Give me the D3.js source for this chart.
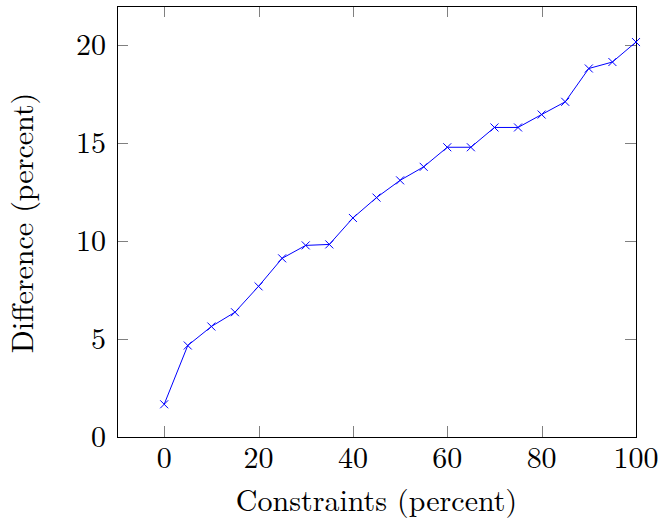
<!DOCTYPE html>
<html>
<head>
<meta charset="utf-8">
<script src="https://cdn.jsdelivr.net/npm/d3@7"></script>
<style>
  body { margin: 0; background: #fff; }
  text { font-family: "CMU Serif", "Latin Modern Roman", "Liberation Serif", serif; fill: #000; }
</style>
</head>
<body>
<svg id="chart" width="659" height="521"></svg>
<script>
const constraints = [0, 5, 10, 15, 20, 25, 30, 35, 40, 45, 50, 55, 60, 65, 70, 75, 80, 85, 90, 95, 100];
const difference = [1.67, 4.67, 5.64, 6.37, 7.69, 9.12, 9.78, 9.83, 11.18, 12.22, 13.10, 13.79, 14.79, 14.79, 15.80, 15.80, 16.46, 17.11, 18.81, 19.14, 20.16];
const xTicks = [0, 20, 40, 60, 80, 100];
const yTicks = [0, 5, 10, 15, 20];

const box = { left: 117, right: 636, top: 6, bottom: 437 };
const fontSize = 30;
const tickLen = 11;

const svg = d3.select('#chart');

const x = d3.scaleLinear().domain([-10, 100]).range([box.left, box.right]);
const y = d3.scaleLinear().domain([0, 22]).range([box.bottom, box.top]);

// mirrored inner ticks, like pgfplots
const tickColor = '#808080';
const ticks = svg.append('g').attr('stroke', tickColor).attr('stroke-width', 1);
xTicks.forEach(v => {
  const px = Math.round(x(v)) + 0.5;
  ticks.append('line').attr('x1', px).attr('x2', px).attr('y1', box.bottom).attr('y2', box.bottom - tickLen);
  ticks.append('line').attr('x1', px).attr('x2', px).attr('y1', box.top).attr('y2', box.top + tickLen);
});
yTicks.forEach(v => {
  const py = Math.round(y(v)) + 0.5;
  ticks.append('line').attr('x1', box.left).attr('x2', box.left + tickLen).attr('y1', py).attr('y2', py);
  ticks.append('line').attr('x1', box.right).attr('x2', box.right - tickLen).attr('y1', py).attr('y2', py);
});

// frame
svg.append('rect')
  .attr('x', box.left + 0.5).attr('y', box.top + 0.5)
  .attr('width', box.right - box.left).attr('height', box.bottom - box.top)
  .attr('fill', 'none').attr('stroke', '#000').attr('stroke-width', 1);

// tick labels
svg.append('g').selectAll('text').data(xTicks).join('text')
  .attr('x', d => x(d)).attr('y', 468)
  .attr('text-anchor', 'middle')
  .style('font-size', fontSize + 'px')
  .text(d => d);

svg.append('g').selectAll('text').data(yTicks).join('text')
  .attr('x', 106).attr('y', d => y(d) + 10)
  .attr('text-anchor', 'end')
  .style('font-size', fontSize + 'px')
  .text(d => d);

// axis titles
svg.append('text')
  .attr('x', (box.left + box.right) / 2).attr('y', 511)
  .attr('text-anchor', 'middle')
  .style('font-size', fontSize + 'px')
  .text('Constraints (percent)');

svg.append('text')
  .attr('transform', `translate(33,223) rotate(-90)`)
  .attr('text-anchor', 'middle')
  .style('font-size', fontSize + 'px')
  .text('Difference (percent)');

// series
const pts = constraints.map((c, i) => [c, difference[i]]);
const line = d3.line().x(d => x(d[0])).y(d => y(d[1]));

svg.append('path').datum(pts)
  .attr('d', line)
  .attr('fill', 'none').attr('stroke', '#0000ff').attr('stroke-width', 1);

const m = 4;
svg.append('g').selectAll('path').data(pts).join('path')
  .attr('d', d => {
    const cx = x(d[0]), cy = y(d[1]);
    return `M${cx - m},${cy - m}L${cx + m},${cy + m}M${cx - m},${cy + m}L${cx + m},${cy - m}`;
  })
  .attr('stroke', '#0000ff').attr('stroke-width', 1).attr('fill', 'none');
</script>
</body>
</html>
